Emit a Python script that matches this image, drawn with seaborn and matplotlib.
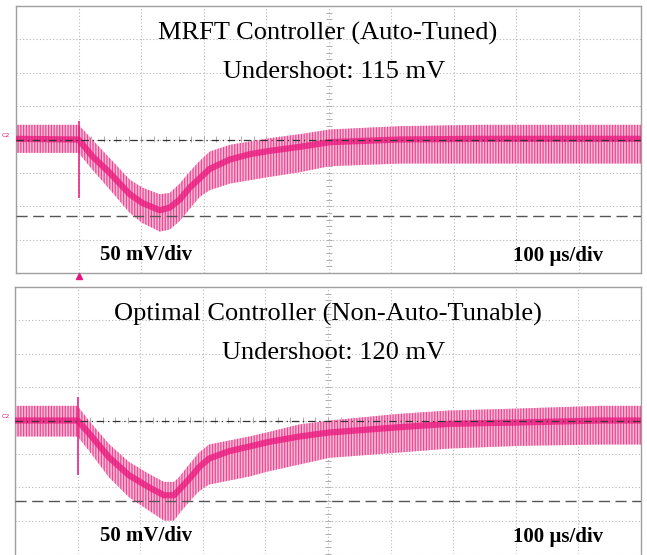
import matplotlib
matplotlib.use("Agg")
import matplotlib.pyplot as plt
from matplotlib.ticker import NullFormatter
import seaborn as sns

top_t = [-100, -5, 0, 22, 50, 82, 102, 130, 146, 162, 178, 194, 210, 242, 274, 306, 354, 402, 514, 642, 900]
top_mean = [1, 0, 0, -25, -50, -82, -95, -106, -102, -90, -72, -58, -44, -30, -22, -17, -11, -4, 0, 1, 1]
top_upper = [22, 22, 22, 0, -28, -60, -72, -82, -80, -66, -48, -32, -18, -8, -3, 2, 8, 15, 20, 22, 22]
top_lower = [-20, -20, -20, -45, -75, -110, -125, -138, -135, -122, -104, -86, -76, -66, -61, -56, -49, -40, -36, -36, -36]

bot_t = [-100, -5, 0, 18, 50, 82, 114, 138, 154, 162, 178, 194, 210, 242, 274, 306, 354, 402, 514, 594, 706, 835, 900]
bot_mean = [0, 0, 0, -19, -55, -82, -100, -112, -112, -104, -88, -70, -57, -46, -39, -32, -24, -18, -10, -5, -3, 0, 0]
bot_upper = [22, 22, 22, 0, -35, -62, -80, -92, -92, -85, -66, -48, -36, -30, -24, -17, -6, 0, 10, 15, 18, 22, 22]
bot_lower = [-24, -24, -24, -45, -85, -115, -135, -150, -150, -140, -122, -106, -96, -90, -84, -76, -66, -56, -48, -42, -38, -36, -36]

trigger_t = 0
top_spike = (-87, 28)
bot_spike = (-82, 35)
undershoot = [115, 120]

titles = ["MRFT Controller (Auto-Tuned)", "Optimal Controller (Non-Auto-Tunable)"]
vdiv_label = "50 mV/div"
hdiv_label = "100 µs/div"

sns.set_theme(style="white")
plt.rcParams["font.family"] = ["Liberation Serif", "DejaVu Serif"]
plt.rcParams["hatch.linewidth"] = 0.9

fig = plt.figure(figsize=(6.47, 5.55), dpi=100)
W, H = 647, 555

# cadres en pixels (gauche, haut, droite, bas)
boxes = [(16, 6, 641, 273), (15, 287, 641, 554)]
traces = [
    (top_t, top_mean, top_upper, top_lower, top_spike),
    (bot_t, bot_mean, bot_upper, bot_lower, bot_spike),
]

pink = "#E8157C"
light = "#F8BCD8"
hatch_col = "#EC4690"

for i, (box, tr) in enumerate(zip(boxes, traces)):
    l, t, r, b = box
    ax = fig.add_axes([l / W, 1 - b / H, (r - l) / W, (b - t) / H])
    tt, mean, up, lo, spike = tr

    ax.set_xlim(-100, 900)
    ax.set_ylim(-200, 200)
    ax.set_xticks(range(-100, 901, 100))
    ax.set_yticks(range(-200, 201, 50))
    ax.set_xticklabels([])
    ax.set_yticklabels([])
    ax.tick_params(length=0)
    ax.grid(True, color="#b8b8b8", linestyle=(0, (1, 2)), linewidth=0.8)
    for s in ax.spines.values():
        s.set_color("#a0a0a0")
        s.set_linewidth(1.0)
    if i == 1:
        ax.spines["bottom"].set_visible(False)

    # graduations fines sur les axes centraux
    sx = ax.secondary_xaxis(0.5)
    sx.set_xticks(range(-100, 901, 20))
    sx.xaxis.set_major_formatter(NullFormatter())
    sx.tick_params(direction="inout", length=4, width=0.6, color="#a0a0a0")
    sy = ax.secondary_yaxis(0.5)
    sy.set_yticks(range(-200, 201, 10))
    sy.yaxis.set_major_formatter(NullFormatter())
    sy.tick_params(direction="inout", length=4, width=0.6, color="#a0a0a0")
    for sec in (sx, sy):
        for s in sec.spines.values():
            s.set_visible(False)

    # enveloppe de l'ondulation + trace moyenne
    ax.fill_between(tt, lo, up, facecolor=light, edgecolor=hatch_col,
                    hatch="||||||", linewidth=0, zorder=2)
    sns.lineplot(x=tt, y=mean, ax=ax, color=pink, linewidth=4.5, alpha=0.75, zorder=3)
    ax.vlines(trigger_t, spike[0], spike[1], color=pink, linewidth=1.1, zorder=4)

    # curseurs
    ax.axhline(0, color="#333333", linestyle=(0, (6, 3, 1, 3)), linewidth=0.9, zorder=5)
    ax.axhline(-undershoot[i], color="#555555", linestyle=(0, (8, 4)), linewidth=1.0, zorder=5)

    # textes
    fig.text(328 / W, 1 - (t + 27) / H, titles[i], ha="center", va="center",
             fontsize=19, color="black")
    fig.text(334 / W, 1 - (t + 66) / H, f"Undershoot: {undershoot[i]} mV", ha="center",
             va="center", fontsize=19, color="black")
    fig.text(146 / W, 1 - (t + 249) / H, vdiv_label, ha="center", va="center",
             fontsize=15, fontweight="bold", color="black")
    fig.text(558 / W, 1 - (t + 250) / H, hdiv_label, ha="center", va="center",
             fontsize=15, fontweight="bold", color="black")
    fig.text(2 / W, 1 - (t + 130) / H, "C2", ha="left", va="center", fontsize=4.5,
             color=pink, family=["DejaVu Sans"])

    if i == 0:
        ax.plot([trigger_t], [-0.012], marker="^", color=pink, markersize=4,
                clip_on=False, transform=ax.get_xaxis_transform(), zorder=6)

fig.savefig("out.png", dpi=100)
